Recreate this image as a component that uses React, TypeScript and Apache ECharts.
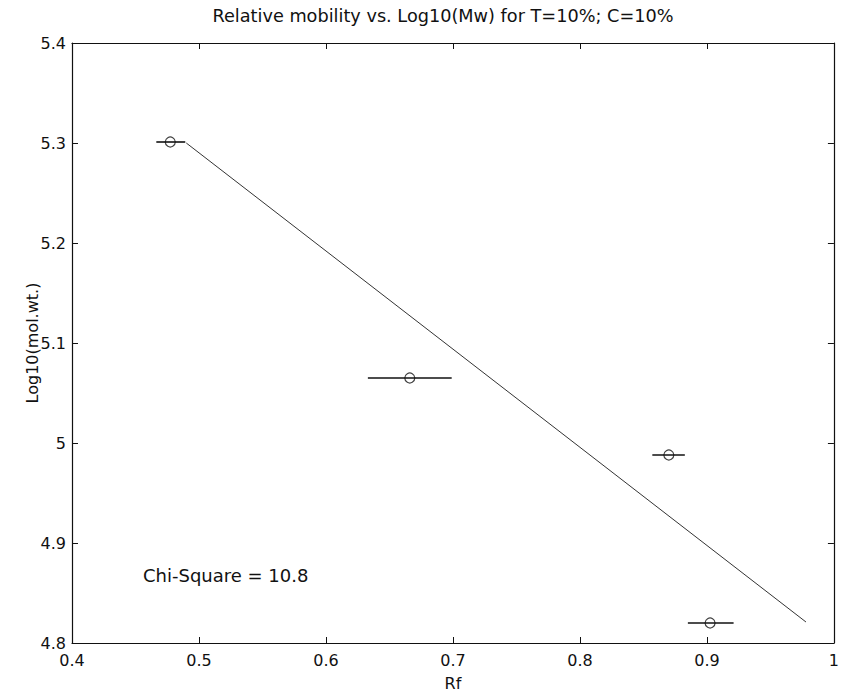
import React, { useEffect, useRef } from "react";
import * as echarts from "echarts";

const rf = [0.4774, 0.666, 0.870, 0.9025];
const logMw = [5.301, 5.065, 4.988, 4.820];
const rfLow = [0.4664, 0.633, 0.857, 0.885];
const rfHigh = [0.4892, 0.699, 0.8826, 0.921];
const fitX = [0.49, 0.978];
const fitY = [5.30, 4.821];
const xTicks = [0.4, 0.5, 0.6, 0.7, 0.8, 0.9, 1];
const yTicks = [4.8, 4.9, 5, 5.1, 5.2, 5.3, 5.4];
const titleText = "Relative mobility vs. Log10(Mw) for T=10%; C=10%";
const chiText = "Chi-Square = 10.8";
const yName = "Log10(mol.wt.)";

const FONT = "'DejaVu Sans', 'Liberation Sans', Arial, sans-serif";

export default function App() {
  const ref = useRef<HTMLDivElement>(null);
  useEffect(() => {
    if (!ref.current) return;
    const chart = echarts.init(ref.current, null, { renderer: "svg" });
    const fmt = (v: number) => String(parseFloat(v.toFixed(2)));
    const axisCommon = {
      axisLine: { show: true, onZero: false, lineStyle: { color: "#111", width: 1.2 } },
      axisTick: { show: true, inside: true, length: 6, lineStyle: { color: "#111", width: 1 } },
      splitLine: { show: false },
    };
    const errData = rf.map((x, i) => [x, logMw[i], rfLow[i], rfHigh[i]]);
    chart.setOption({
      animation: false,
      backgroundColor: "#fff",
      title: {
        text: titleText,
        left: 438,
        top: 2,
        textAlign: "center",
        textStyle: { fontFamily: FONT, fontSize: 17.7, fontWeight: "normal", color: "#111" },
      },
      grid: { left: 72, right: 5, top: 43, bottom: 53 },
      xAxis: [
        {
          type: "value",
          min: xTicks[0],
          max: xTicks[xTicks.length - 1],
          interval: 0.1,
          position: "bottom",
          name: "Rf",
          nameLocation: "middle",
          nameGap: 32,
          nameTextStyle: { fontFamily: FONT, fontSize: 16, color: "#111" },
          axisLabel: { formatter: fmt, margin: 9, fontFamily: FONT, fontSize: 16, color: "#111" },
          ...axisCommon,
        },
        {
          type: "value",
          min: xTicks[0],
          max: xTicks[xTicks.length - 1],
          interval: 0.1,
          position: "top",
          axisLabel: { show: false },
          ...axisCommon,
        },
      ],
      yAxis: [
        {
          type: "value",
          min: yTicks[0],
          max: yTicks[yTicks.length - 1],
          interval: 0.1,
          position: "left",
          axisLabel: { formatter: fmt, margin: 6, fontFamily: FONT, fontSize: 16, color: "#111" },
          ...axisCommon,
        },
        {
          type: "value",
          min: yTicks[0],
          max: yTicks[yTicks.length - 1],
          interval: 0.1,
          position: "right",
          axisLabel: { show: false },
          ...axisCommon,
        },
      ],
      graphic: [
        {
          type: "text",
          x: 32,
          y: 343,
          rotation: Math.PI / 2,
          style: {
            text: yName,
            fontFamily: FONT,
            fontSize: 16,
            fill: "#111",
            align: "center",
            verticalAlign: "middle",
          },
        },
        {
          type: "text",
          left: 143,
          top: 566,
          style: { text: chiText, fontFamily: FONT, fontSize: 18, fill: "#111" },
        },
      ],
      series: [
        {
          type: "line",
          data: fitX.map((x, i) => [x, fitY[i]]),
          showSymbol: false,
          symbol: "none",
          lineStyle: { color: "#333", width: 1 },
          silent: true,
        },
        {
          type: "custom",
          data: errData,
          renderItem: (params: any, api: any) => {
            const y = api.value(1);
            const p1 = api.coord([api.value(2), y]);
            const p2 = api.coord([api.value(3), y]);
            return {
              type: "line",
              shape: { x1: p1[0], y1: p1[1], x2: p2[0], y2: p2[1] },
              style: { stroke: "#111", lineWidth: 1.6 },
            };
          },
          encode: { x: [0, 2, 3], y: 1 },
          silent: true,
        },
        {
          type: "scatter",
          data: rf.map((x, i) => [x, logMw[i]]),
          symbol: "circle",
          symbolSize: 10,
          itemStyle: { color: "rgba(255,255,255,0)", borderColor: "#111", borderWidth: 1.2 },
          silent: true,
        },
      ],
    });
    return () => chart.dispose();
  }, []);
  return (
    <div
      ref={ref}
      style={{ position: "fixed", left: 0, top: 0, width: 842, height: 696, background: "#fff" }}
    />
  );
}
